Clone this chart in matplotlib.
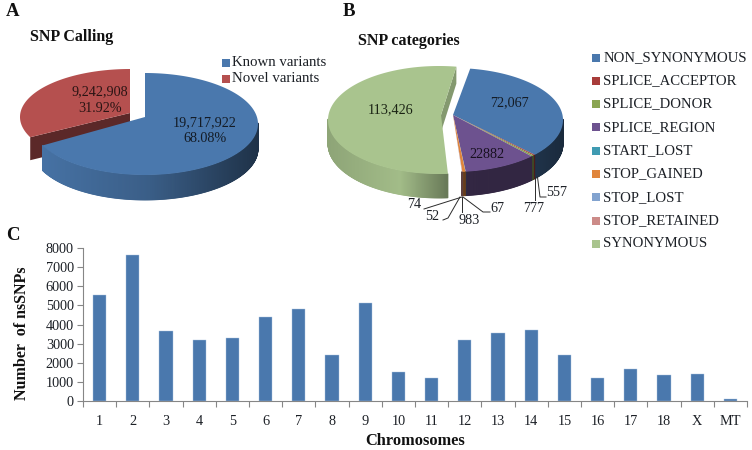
import numpy as np
import matplotlib
matplotlib.use("Agg")
import matplotlib.pyplot as plt

plt.rcParams['font.family'] = ['Liberation Serif', 'DejaVu Serif']

# panel A
calling_names = ["Known variants", "Novel variants"]
calling_values = [19717922, 9242908]
calling_labels = ["19,717,922\n68.08%", "9,242,908\n31.92%"]
calling_colors = ["#4a78ad", "#b5504f"]

# panel B
category_names = ["NON_SYNONYMOUS", "SPLICE_ACCEPTOR", "SPLICE_DONOR", "SPLICE_REGION", "START_LOST",
                  "STOP_GAINED", "STOP_LOST", "STOP_RETAINED", "SYNONYMOUS"]
category_values = [72067, 557, 777, 22882, 67, 983, 52, 74, 113426]
category_colors = ["#4a78ad", "#a83c3a", "#8aa552", "#6d528f", "#3f9bb2", "#e0853c", "#82a3cf", "#cc8b88", "#a9c48e"]

# panel C
chromosomes = ["1", "2", "3", "4", "5", "6", "7", "8", "9", "10", "11", "12", "13", "14", "15", "16", "17", "18", "X", "MT"]
nssnps = [5555, 7620, 3660, 3190, 3280, 4390, 4810, 2410, 5100, 1545, 1215, 3190, 3540, 3700, 2410, 1215, 1665, 1370, 1420, 100]

text_col = "#1c2026"


def mix(c, f):
    rgb = np.array(matplotlib.colors.to_rgb(c))
    return tuple(rgb * f)


def arc(cx, cy, rx, ry, a1, a2, n=120):
    t = np.radians(np.linspace(a1, a2, n))
    return cx + rx * np.cos(t), cy - ry * np.sin(t)


def slice3d(ax, a1, a2, color, geom, stops=None, depth=24, wall=None, z=2):
    # a1 > a2, clockwise from a1. geom = cx, cy, rx, ry, vx, vy
    cx, cy, rx, ry, vx, vy = geom
    n = max(int((a1 - a2) * 2), 3)
    x, y = arc(cx, cy, rx, ry, a1, a2, n)
    t = np.radians(np.linspace(a1, a2, n))
    # outer side, only the front part of the rim shows
    if stops is not None:
        for i in range(n - 1):
            if np.sin(t[i]) > 0.02 and np.sin(t[i + 1]) > 0.02:
                continue
            f = np.interp(x[i], stops[0], stops[1])
            ax.fill([x[i], x[i + 1], x[i + 1], x[i]], [y[i], y[i + 1], y[i + 1] + depth, y[i] + depth],
                    facecolor=mix(color, f), edgecolor=mix(color, f), lw=0.6, zorder=z)
    if wall is not None:
        ex, ey, wall_depth, shade = wall
        ax.fill([vx, ex, ex, vx], [vy, ey, ey + wall_depth, vy + wall_depth], color=mix(color, shade), lw=0, zorder=z)
    ax.fill(np.r_[vx, x], np.r_[vy, y], color=color, lw=0, zorder=z + 1)


fig = plt.figure(figsize=(7.52, 4.5), dpi=100)

# bars
ax = fig.add_axes([83 / 752, 1 - 401.3 / 450, 664 / 752, 153.6 / 450])
pos = np.arange(len(chromosomes))
ax.bar(pos, nssnps, width=0.4, color="#4a78ad", edgecolor="#a9c3e0", linewidth=0.3)
ax.set_xlim(-0.5, len(chromosomes) - 0.5)
ax.set_ylim(0, 8000)
ax.set_yticks(np.arange(0, 8001, 1000))
ax.set_xticks(np.arange(-0.5, len(chromosomes)), minor=False)
ax.set_xticklabels([])
ax.set_xticks(pos, chromosomes, minor=True)
ax.tick_params(axis='x', which='major', length=4, color="#868686", width=0.8)
ax.tick_params(axis='x', which='minor', length=0, pad=10, labelsize=10.3, labelcolor=text_col)
ax.tick_params(axis='y', length=4.5, color="#868686", width=0.8, labelsize=10.3, labelcolor=text_col, pad=2)
for s in ["top", "right"]:
    ax.spines[s].set_visible(False)
for s in ["left", "bottom"]:
    ax.spines[s].set_color("#868686")

# overlay in pixel coordinates for the two pies
ov = fig.add_axes([0, 0, 1, 1])
ov.set_xlim(0, 752)
ov.set_ylim(450, 0)
ov.axis('off')
ov.patch.set_alpha(0)

# pie A
shares = 360 * np.array(calling_values) / sum(calling_values)
end_known = 90 - shares[0]
red_end = np.radians(end_known)
slice3d(ov, 90 + shares[1], 90, calling_colors[1], (130, 117, 110, 48, 130, 113),
        wall=(130 + 110 * np.cos(red_end), 117 - 48 * np.sin(red_end), 23, 0.5), z=2)
slice3d(ov, 90, end_known, calling_colors[0], (145, 124, 113, 51, 145, 117),
        ([41, 150, 257], [0.95, 0.78, 0.42]), depth=25, z=4)
ov.text(205, 131, calling_labels[0], ha='center', va='center', fontsize=10.2, color="#141c26", zorder=8, linespacing=1.3)
ov.text(100, 100, calling_labels[1], ha='center', va='center', fontsize=10.2, color="#2a1414", zorder=8, linespacing=1.3)
for i, name in enumerate(calling_names):
    ov.scatter(226, 62.5 + i * 16.5, marker='s', s=30, color=calling_colors[i], lw=0, zorder=8)
    ov.text(232.5, 62 + i * 16.5, name, ha='left', va='center', fontsize=10.7, color=text_col, zorder=8)

# pie B
angles = 360 * np.array(category_values) / sum(category_values)
start = 81.0
geom = (453, 120, 110, 52, 453, 115)
green_geom = (439, 120, 111, 54, 441, 115)
a = start
for i, share in enumerate(angles):
    if category_names[i] == "SYNONYMOUS":
        # exploded slice, its inner wall only shows along the back edge
        g = np.radians(start)
        slice3d(ov, a, a - share, category_colors[i], green_geom,
                ([328, 400, 447], [0.84, 0.96, 0.62]), depth=24,
                wall=(439 + 111 * np.cos(g), 120 - 54 * np.sin(g), 17, 0.78), z=2)
    else:
        stops = ([450, 537, 563], [0.42, 0.42, 0.35]) if i == 0 else ([450, 563], [0.46, 0.46])
        slice3d(ov, a, a - share, category_colors[i], geom, stops, depth=24, z=4 + i * 0.01)
    a -= share

ov.text(509, 103, "72,067", ha='center', va='center', fontsize=10.2, color="#141c26", zorder=8)
ov.text(391, 110, "113,426", ha='center', va='center', fontsize=10.2, color="#1b2414", zorder=8)
ov.text(487, 155, "22882", ha='center', va='center', fontsize=10.2, color="#17101f", zorder=8)

leader_col = "#2b2b2b"
leaders = [([462, 424], [197, 209]), ([460, 448, 443, 443], [197, 218, 220, 220]), ([461.5, 461.5], [197, 212]),
           ([463, 483, 490], [197, 212, 212]), ([535, 535], [177, 200]), ([537.5, 540, 546], [177, 197, 197])]
for lx, ly in leaders:
    ov.plot(lx, ly, color=leader_col, lw=0.7, zorder=7)
small_labels = [("74", 414, 205), ("52", 432, 216), ("983", 469, 220), ("67", 497, 208), ("777", 534, 208), ("557", 557, 193)]
for s, x, y in small_labels:
    ov.text(x, y, s, ha='center', va='center', fontsize=10.2, color=text_col, zorder=8)

for i, name in enumerate(category_names):
    ov.scatter(596, 57.5 + i * 23.3, marker='s', s=30, color=category_colors[i], lw=0, zorder=8)
    ov.text(603.5, 57.5 + i * 23.3, name, ha='left', va='center', fontsize=10.6, color=text_col, zorder=8)

# titles and panel letters
ov.text(30, 37, "SNP Calling", ha='left', va='center', fontsize=11.5, fontweight='bold', color="#111111")
ov.text(357.5, 41, "SNP categories", ha='left', va='center', fontsize=11.5, fontweight='bold', color="#111111")
ov.text(6, 12, "A", ha='left', va='center', fontsize=13.5, fontweight='bold', color="#111111")
ov.text(343, 12, "B", ha='left', va='center', fontsize=13.5, fontweight='bold', color="#111111")
ov.text(6, 235, "C", ha='left', va='center', fontsize=13.5, fontweight='bold', color="#111111")
ov.text(22, 333, "Number  of nsSNPs", ha='center', va='center', rotation=90, fontsize=11.5, fontweight='bold', color="#111111")
ov.text(415, 441, "Chromosomes", ha='center', va='center', fontsize=11.8, fontweight='bold', color="#111111")

fig.savefig("out.png", dpi=100)
